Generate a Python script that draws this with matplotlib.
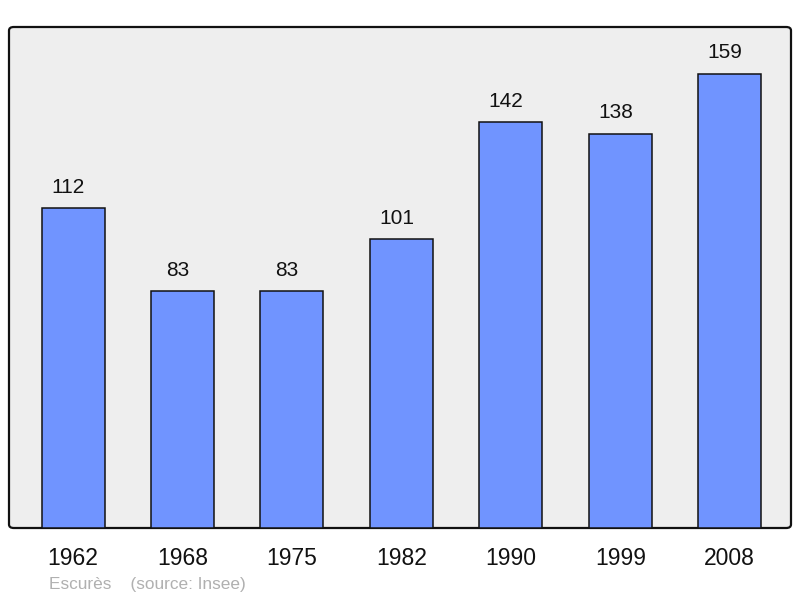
import matplotlib
matplotlib.use("Agg")
import matplotlib.pyplot as plt
from matplotlib.patches import FancyBboxPatch

years = ["1962", "1968", "1975", "1982", "1990", "1999", "2008"]
population = [112, 83, 83, 101, 142, 138, 159]

plt.rcParams['font.family'] = ['Liberation Sans', 'DejaVu Sans']

fig = plt.figure(figsize=(8, 5.98), dpi=100)
ax = fig.add_axes([9/800, 70/598, 782/800, 501/598])
ax.set_zorder(1)
ax.set_facecolor('none')
for s in ax.spines.values():
    s.set_visible(False)

# rounded frame
frame = FancyBboxPatch((9/800, 70/598), 782/800, 501/598,
                       boxstyle="round,pad=0,rounding_size=0.006",
                       transform=fig.transFigure, facecolor='#eeeeee',
                       edgecolor='#111111', linewidth=1.6, zorder=-5)
fig.patches.append(frame)

x = list(range(len(years)))
bars = ax.bar(x, population, width=0.576, color='#7094ff', edgecolor='#111111',
              linewidth=1.1, zorder=2)
for xi, v in zip(x, population):
    ax.annotate(str(v), (xi, v), xytext=(-3.5, 8), textcoords='offset points',
                ha='center', va='bottom', fontsize=15, color='#111111')

ax.set_xlim(-0.585, 6.56)
ax.set_ylim(0, 175.3)
ax.set_yticks([])
ax.set_xticks(x)
ax.set_xticklabels(years, fontsize=16.5, color='#111111')
ax.tick_params(axis='x', length=0, pad=14)

fig.text(49/800, 1 - 584/598, "Escurès    (source: Insee)", fontsize=12.4,
         color='#b0b0b0', ha='left', va='center')

fig.savefig("out.png", dpi=100)
